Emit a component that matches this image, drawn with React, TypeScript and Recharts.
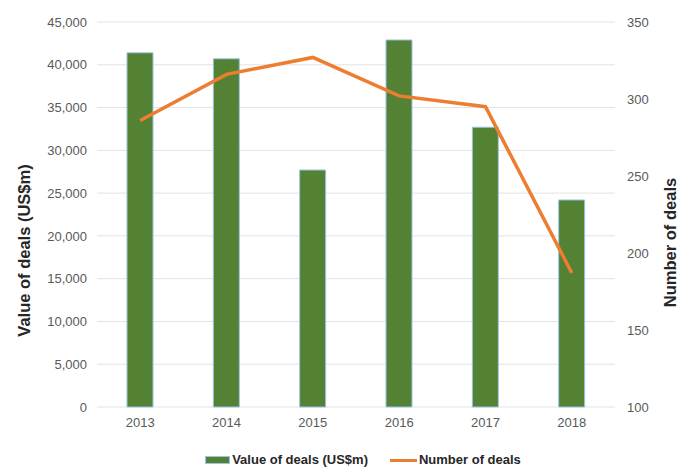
import { Bar, CartesianGrid, ComposedChart, Legend, Line, XAxis, YAxis } from 'recharts';

const years = ['2013', '2014', '2015', '2016', '2017', '2018'];
const dealValues = [41400, 40700, 27700, 42900, 32700, 24200];
const dealCounts = [286, 316, 327, 302, 295, 187];
const leftTicks = [0, 5000, 10000, 15000, 20000, 25000, 30000, 35000, 40000, 45000];
const rightTicks = [100, 150, 200, 250, 300, 350];

const data = years.map((year, i) => ({ year, value: dealValues[i], count: dealCounts[i] }));

const FONT = '"Liberation Sans", Arial, sans-serif';
const tickStyle = { fontSize: 13, fill: '#595959', fontFamily: FONT };

function LeftTitle({ viewBox }: any) {
  const x = viewBox.x + 24;
  const y = viewBox.y + viewBox.height / 2 + 36;
  return (
    <text x={x} y={y} transform={`rotate(-90 ${x} ${y})`} textAnchor="middle" dominantBaseline="central"
      style={{ fontSize: 16.5, fontWeight: 700, fill: '#262626', fontFamily: FONT }}>
      Value of deals (US$m)
    </text>
  );
}

function RightTitle({ viewBox }: any) {
  const x = viewBox.x + 55;
  const y = viewBox.y + viewBox.height / 2 + 28;
  return (
    <text x={x} y={y} transform={`rotate(-90 ${x} ${y})`} textAnchor="middle" dominantBaseline="central"
      style={{ fontSize: 16.5, fontWeight: 700, fill: '#262626', fontFamily: FONT }}>
      Number of deals
    </text>
  );
}

function LegendBox() {
  const text = { fontSize: 13, fontWeight: 700, color: '#262626', fontFamily: FONT, lineHeight: '16px' };
  return (
    <div style={{ display: 'flex', justifyContent: 'center', alignItems: 'center', paddingTop: 15, paddingLeft: 38 }}>
      <span style={{ display: 'inline-block', width: 25, height: 8, background: '#548235', border: '1px solid #9dc3e6', boxSizing: 'border-box', marginRight: 2 }} />
      <span style={text}>Value of deals (US$m)</span>
      <span style={{ display: 'inline-block', width: 27, height: 3, background: '#ed7d31', marginLeft: 22, marginRight: 2 }} />
      <span style={text}>Number of deals</span>
    </div>
  );
}

export default function App() {
  return (
    <div style={{ position: 'absolute', left: 0, top: 0, background: '#fff' }}>
      <ComposedChart width={688} height={468} data={data} margin={{ top: 22, right: 0, bottom: 0, left: 0 }}>
        <CartesianGrid yAxisId="left" vertical={false} stroke="#e3e3e3" />
        <XAxis dataKey="year" axisLine={false} tickLine={false} tick={tickStyle} tickMargin={5} height={30} />
        <YAxis yAxisId="left" domain={[0, 45000]} ticks={leftTicks} width={97} axisLine={false} tickLine={false}
          tick={tickStyle} tickMargin={4} tickFormatter={(v: number) => v.toLocaleString('en-US')}
          label={<LeftTitle />} />
        <YAxis yAxisId="right" orientation="right" domain={[100, 350]} ticks={rightTicks} width={73}
          axisLine={false} tickLine={false} tick={{ ...tickStyle, textAnchor: 'start' }} tickMargin={6}
          label={<RightTitle />} />
        <Legend verticalAlign="bottom" height={31} content={<LegendBox />} />
        <Bar yAxisId="left" dataKey="value" name="Value of deals (US$m)" fill="#548235" stroke="#9dc3e6"
          strokeWidth={1} barSize={26} isAnimationActive={false} />
        <Line yAxisId="right" type="linear" dataKey="count" name="Number of deals" stroke="#ed7d31"
          strokeWidth={3.5} dot={false} isAnimationActive={false} />
      </ComposedChart>
    </div>
  );
}
